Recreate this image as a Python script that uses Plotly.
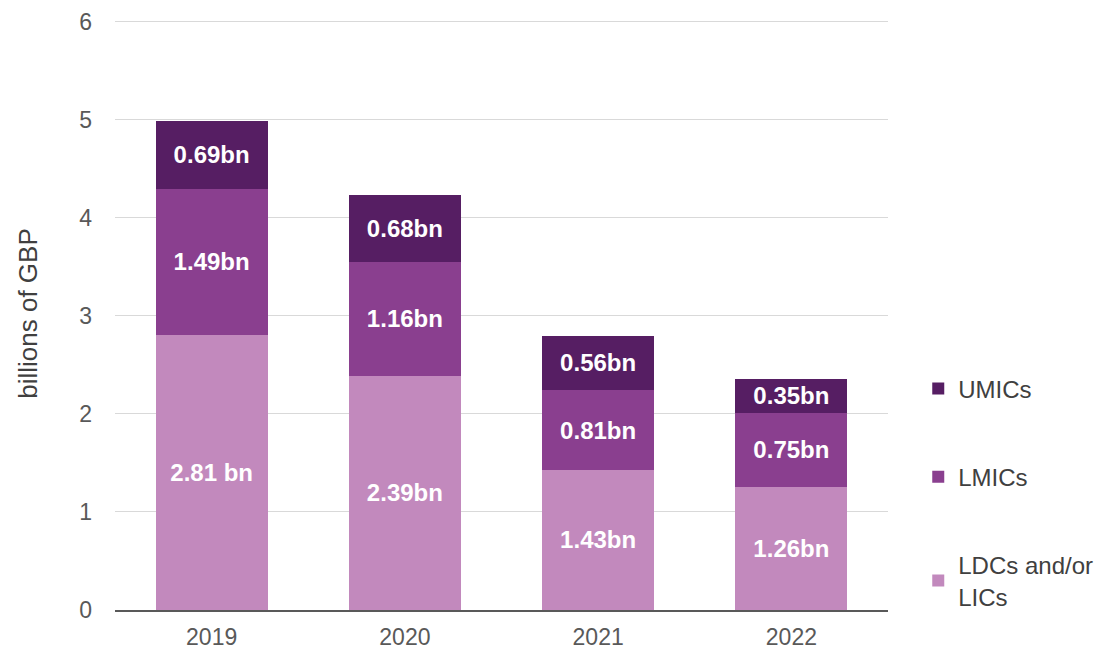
import plotly.graph_objects as go

years = ["2019", "2020", "2021", "2022"]
ldc = [2.81, 2.39, 1.43, 1.26]
lmic = [1.49, 1.16, 0.81, 0.75]
umic = [0.69, 0.68, 0.56, 0.35]
ldc_labels = ["2.81 bn", "2.39bn", "1.43bn", "1.26bn"]
lmic_labels = ["1.49bn", "1.16bn", "0.81bn", "0.75bn"]
umic_labels = ["0.69bn", "0.68bn", "0.56bn", "0.35bn"]
y_ticks = [0, 1, 2, 3, 4, 5, 6]

font_family = "Liberation Sans"
txtfont = dict(family=font_family, size=24, color="white", weight="bold")

fig = go.Figure()
series = [
    ("LDCs and/or<br>LICs", ldc, ldc_labels, "#C289BD", 3, "g3"),
    ("LMICs", lmic, lmic_labels, "#8A3F8F", 2, "g2"),
    ("UMICs", umic, umic_labels, "#561E63", 1, "g1"),
]
for name, vals, labels, color, rank, grp in series:
    fig.add_trace(go.Bar(
        x=years, y=vals, name=name, text=labels,
        textposition="inside", insidetextanchor="middle",
        textfont=txtfont, marker=dict(color=color, line=dict(width=0)),
        legendrank=rank, legendgroup=grp, textangle=0,
    ))

fig.update_layout(
    barmode="stack",
    bargap=0.42,
    width=1102, height=653,
    margin=dict(l=107, r=222, t=9, b=51, autoexpand=False),
    plot_bgcolor="white", paper_bgcolor="white",
    font=dict(family=font_family, size=23, color="#595959"),
    legend=dict(
        xref="container", yref="container",
        x=0.826, y=0.451, xanchor="left", yanchor="top",
        traceorder="grouped", tracegroupgap=54,
        font=dict(family=font_family, size=24, color="#404040"),
        itemwidth=30,
    ),
    yaxis=dict(
        range=[0, 6.05], tickvals=y_ticks, showgrid=True, gridcolor="#D9D9D9",
        gridwidth=1, zeroline=False, showline=False, automargin=False,
        title=dict(text="billions of GBP", font=dict(size=26, color="#404040"), standoff=34),
        ticks="", tickfont=dict(size=23, color="#595959"), ticklabelstandoff=22,
    ),
    xaxis=dict(
        showline=True, linecolor="#595959", linewidth=1.5, automargin=False,
        tickfont=dict(size=23, color="#595959"), ticks="", ticklabelstandoff=6,
    ),
)
fig.write_html("out.html")
